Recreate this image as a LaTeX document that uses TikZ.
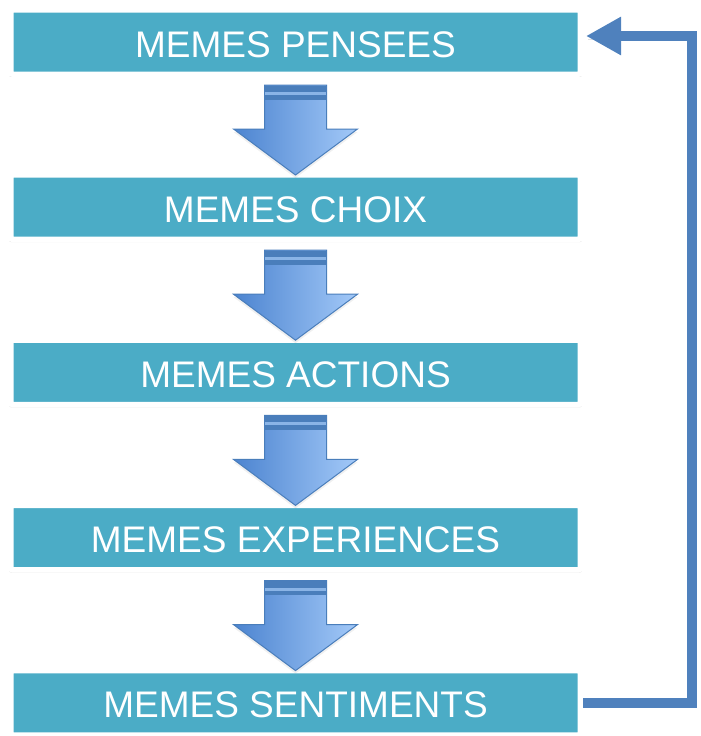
\documentclass[tikz,border=0pt]{standalone}
\usepackage{fontspec}
\setmainfont{Liberation Sans}
\usetikzlibrary{positioning, arrows.meta, shadows}

\definecolor{turquoise}{HTML}{4BACC6}
\definecolor{bleu}{HTML}{4F81BD}
\definecolor{bleugauche}{HTML}{4C84D0}
\definecolor{bleuclair}{HTML}{A3C9F8}
\definecolor{bleufonce}{HTML}{4A7EBB}

\tikzset{
  etape/.style={draw=white, line width=5.5pt, fill=turquoise, rounded corners=2pt,
    minimum width=569.5pt, minimum height=64.5pt, inner sep=0pt, text=white,
    text height=30pt, text depth=0pt,
    font=\fontsize{37}{40}\selectfont,
    drop shadow={opacity=0.22, shadow xshift=0pt, shadow yshift=-2.5pt, shadow scale=1.006}},
  fleche/.style={draw=bleufonce, line width=1pt, left color=bleugauche, right color=bleuclair,
    drop shadow={opacity=0.12, shadow xshift=0pt, shadow yshift=-3pt}},
  retour/.style={draw=bleu, line width=10pt, -{Triangle[length=35pt,width=36pt]}}
}

\begin{document}
\begin{tikzpicture}[x=1pt, y=-1pt]
  \useasboundingbox (0,0) rectangle (701,736);

  % Etapes
  \foreach \i/\t in {1/MEMES PENSEES, 2/MEMES CHOIX, 3/MEMES ACTIONS, 4/MEMES EXPERIENCES, 5/MEMES SENTIMENTS} {
    \node[etape] (e\i) at (295.5, {42+165.2*(\i-1)}) {\t};
  }

  % Fleches vers le bas
  \foreach \i in {1,...,4} {
    \path[fleche] ([shift={(-31,8)}]e\i.south) -- ++(62,0) -- ++(0,44) -- ++(31,0)
      -- ++(-62,46) -- ++(-62,-46) -- ++(31,0) -- cycle;
    % bandes du haut
    \fill[bleufonce] ([shift={(-30.5,8.5)}]e\i.south) rectangle ++(61,14);
    \fill[bleuclair!70!bleu] ([shift={(-30.5,15)}]e\i.south) rectangle ++(61,3);
  }

  % Retour
  \draw[retour, preaction={draw=black, opacity=0.12, -, transform canvas={xshift=2pt, yshift=-3pt}}]
    (e5.east) -- ++(109,0) |- ([shift={(3,-6)}]e1.east);

\end{tikzpicture}
\end{document}
